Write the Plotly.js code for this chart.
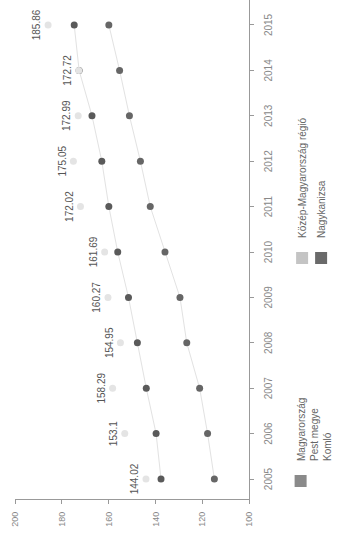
<!DOCTYPE html>
<html><head><meta charset="utf-8">
<script src="https://cdn.plot.ly/plotly-3.0.1.min.js"></script>
<style>
html,body{margin:0;padding:0;width:340px;height:541px;overflow:hidden;background:#fff}
#wrap{position:absolute;left:0;top:0;width:541px;height:340px;transform-origin:0 0;transform:translateY(541px) rotate(-90deg);}
</style></head><body>
<div id="wrap"></div>
<script>
const years = [2005, 2006, 2007, 2008, 2009, 2010, 2011, 2012, 2013, 2014, 2015];
const yearLabels = ['2005', '2006', '2007', '2008', '2009', '2010', '2011', '2012', '2013', '2014', '2015'];
const regionValues = [144.02, 153.1, 158.29, 154.95, 160.27, 161.69, 172.02, 175.05, 172.99, 172.72, 185.86];
const upperValues = [137.6, 139.7, 143.9, 147.7, 151.5, 156.1, 159.9, 162.9, 167.1, 172.6, 174.7];
const lowerValues = [114.8, 117.7, 121.1, 126.6, 129.5, 135.9, 142.2, 146.4, 151.1, 155.3, 159.9];
const yTicks = [100, 120, 140, 160, 180, 200];
const legendNames = ['Magyarország<br>Pest megye<br>Komló', 'Közép-Magyarország régió', 'Nagykanizsa'];

const FONT = 'Liberation Sans, Arial, sans-serif';
const traces = [
  {x: years, y: lowerValues, mode: 'lines+markers', showlegend: false,
   line: {color: '#e2e2e2', width: 1}, marker: {color: '#666', size: 7}},
  {x: years, y: upperValues, mode: 'lines+markers', showlegend: false,
   line: {color: '#e2e2e2', width: 1}, marker: {color: '#5a5a5a', size: 7}},
  {x: years, y: regionValues, mode: 'markers+text', showlegend: false,
   marker: {color: '#e4e4e4', size: 7}, texttemplate: '%{y}', textposition: 'top center',
   textfont: {size: 10, color: '#555', family: FONT}},
  {x: [null], y: [null], mode: 'markers', name: legendNames[0], legend: 'legend',
   marker: {symbol: 'square', size: 12, color: '#8a8a8a'}},
  {x: [null], y: [null], mode: 'markers', name: legendNames[1], legend: 'legend2',
   marker: {symbol: 'square', size: 12, color: '#c4c4c4'}},
  {x: [null], y: [null], mode: 'markers', name: legendNames[2], legend: 'legend2',
   marker: {symbol: 'square', size: 12, color: '#6a6a6a'}}
];

const layout = {
  width: 541, height: 340,
  margin: {l: 42, r: 0, t: 15, b: 89},
  paper_bgcolor: '#fff', plot_bgcolor: '#fff',
  font: {family: FONT, color: '#777', size: 10},
  xaxis: {range: [2004.56, 2015.55], tickvals: years, ticktext: yearLabels,
    showline: true, linecolor: '#999', linewidth: 1, ticks: 'outside', ticklen: 4,
    tickcolor: '#999', tickfont: {size: 10, color: '#888'}, showgrid: false, zeroline: false,
    ticklabelstandoff: 6},
  yaxis: {range: [100, 200], tickvals: yTicks, showline: true, linecolor: '#999', linewidth: 1,
    ticks: 'outside', ticklen: 4, tickcolor: '#999', tickfont: {size: 9, color: '#888'},
    showgrid: false, zeroline: false, ticklabelstandoff: 6},
  legend: {x: -0.004, y: -0.165, xanchor: 'left', yanchor: 'top', valign: 'top',
    font: {size: 10, color: '#666'}, bgcolor: 'rgba(0,0,0,0)'},
  legend2: {x: 0.443, y: -0.165, xanchor: 'left', yanchor: 'top',
    font: {size: 10, color: '#666'}, bgcolor: 'rgba(0,0,0,0)'}
};

Plotly.newPlot('wrap', traces, layout, {displayModeBar: false, staticPlot: true});
</script>
</body></html>
